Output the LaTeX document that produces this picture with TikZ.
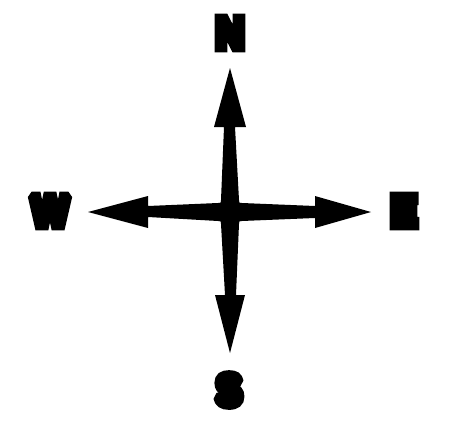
\documentclass[tikz,border=0pt]{standalone}
\usepackage{fontspec}
\newfontfamily\heavyfont[FakeBold=20]{Liberation Sans Bold}
\tikzset{
  letter/.style={font=\heavyfont\fontsize{39}{39}\selectfont, inner sep=0pt, anchor=center, text=black, line join=miter, miter limit=1.6, yscale=1.12},
  rose/.style={fill=black, draw=none}
}
\begin{document}
\begin{tikzpicture}[x=1pt,y=-1pt]
\useasboundingbox (0,0) rectangle (450,431);
\fill[white] (0,0) rectangle (450,431);
% compass cross
\coordinate (c) at (230,212);
\fill[rose] (230,68) -- (246,127) -- (235,127)
  -- (239,200) .. controls (239,203) .. (242,203)
  -- (315,206)
  -- (315,196) -- (371,212) -- (315,228) -- (315,218)
  -- (242,221) .. controls (239,221) .. (239,224)
  -- (236,295)
  -- (245,295) -- (230,353) -- (215,295) -- (225,295)
  -- (221,224) .. controls (221,221) .. (218,221)
  -- (148,217)
  -- (148,228) -- (88,212) -- (148,196) -- (148,206)
  -- (218,203) .. controls (221,203) .. (221,200)
  -- (224,127)
  -- (214,127) -- cycle;
% letters
\node[letter] (n) at (230,33) {N};
\node[letter] (w) at (50,211) {W};
\node[letter] (e) at (404,211) {E};
\node[letter] (s) at (229,390) {S};
\end{tikzpicture}
\end{document}
